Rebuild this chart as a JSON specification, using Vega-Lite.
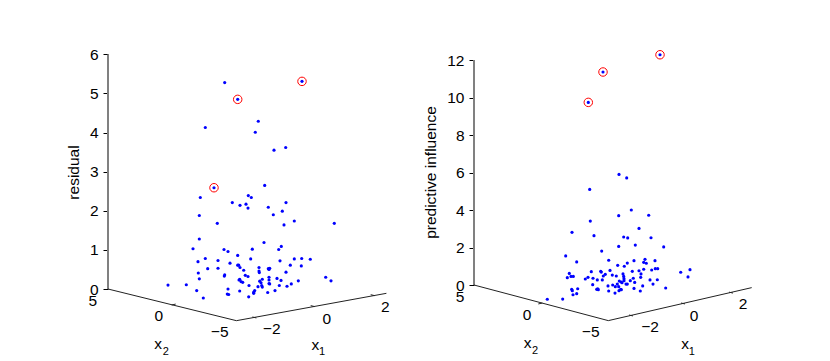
{
"$schema":"https://vega.github.io/schema/vega-lite/v6.json",
"autosize":{"type":"pad"},
"padding":{"left":66,"top":0,"right":0,"bottom":0},
"background":"white",
"spacing":0,
"bounds":"flush",
"config":{"view":{"stroke":null},"font":"Liberation Sans","text":{"font":"Liberation Sans"}},
"datasets":{
"p1":[
{"u":116.7,"z":5.28},{"u":129.7,"z":4.85,"out":true},{"u":194,"z":5.31,"out":true},{"u":150.3,"z":4.29},{"u":97.3,"z":4.13},{"u":147.3,"z":4.01},{"u":166,"z":3.55},{"u":177.7,"z":3.62},{"u":156.7,"z":2.65},{"u":106,"z":2.59,"out":true},{"u":140.3,"z":2.39},{"u":143.3,"z":2.34},{"u":92.3,"z":2.34},
{"u":124.3,"z":2.21},{"u":132,"z":2.14},{"u":138,"z":2.17},{"u":140,"z":2.07},{"u":160.3,"z":2.09},{"u":178,"z":2.21},{"u":165.3,"z":1.9},{"u":174.3,"z":1.99},{"u":91.3,"z":1.88},{"u":186.3,"z":1.74},{"u":176,"z":1.64},{"u":109.3,"z":1.68},{"u":226.3,"z":1.68},{"u":91.3,"z":1.28},{"u":156,"z":1.19},{"u":173.3,"z":1.09},{"u":170.7,"z":1.01},{"u":144.3,"z":1.02},{"u":85,"z":1.03},{"u":116,"z":1.01},{"u":120,"z":0.96},{"u":129.7,"z":0.86},{"u":97.3,"z":0.78},{"u":142.7,"z":0.77},{"u":90,"z":0.7},{"u":110,"z":0.73},{"u":172,"z":0.72},{"u":186.3,"z":0.77},{"u":193.7,"z":0.78},{"u":202.3,"z":0.76},{"u":122,"z":0.66},{"u":129.7,"z":0.61},{"u":130.7,"z":0.61},{"u":132,"z":0.55},{"u":182.3,"z":0.61},{"u":193.3,"z":0.59},{"u":99.7,"z":0.52},{"u":110,"z":0.53},{"u":151,"z":0.55},{"u":160.3,"z":0.52},{"u":161.7,"z":0.53},{"u":161,"z":0.5},{"u":135.7,"z":0.48},{"u":90.3,"z":0.41},{"u":151,"z":0.46},{"u":151.3,"z":0.42},{"u":178,"z":0.43},{"u":137.3,"z":0.35},{"u":140,"z":0.32},{"u":116.7,"z":0.36},{"u":116.3,"z":0.33},{"u":91.3,"z":0.26},{"u":131.7,"z":0.25},{"u":131,"z":0.23},{"u":133,"z":0.19},{"u":134.7,"z":0.17},{"u":154.3,"z":0.25},{"u":151.7,"z":0.2},{"u":153,"z":0.16},{"u":161,"z":0.3},{"u":161,"z":0.23},{"u":161,"z":0.14},{"u":169,"z":0.27},{"u":173,"z":0.22},{"u":190.3,"z":0.21},{"u":217.7,"z":0.3},{"u":223,"z":0.21},{"u":60,"z":0.1},{"u":78.3,"z":0.11},{"u":141,"z":0.09},{"u":150,"z":0.06},{"u":153.7,"z":0.09},{"u":154.3,"z":0.05},{"u":161.7,"z":0.13},{"u":171.3,"z":0.09},{"u":179,"z":0.07},{"u":183.3,"z":0.13},{"u":120,"z":0},{"u":88.7,"z":-0.04},{"u":131.7,"z":-0.05},{"u":119.3,"z":-0.13},{"u":120.7,"z":-0.14},{"u":146.7,"z":-0.04},{"u":145.7,"z":-0.08},{"u":145.7,"z":-0.11},{"u":159.7,"z":-0.09},{"u":167,"z":-0.04},{"u":95.3,"z":-0.23},{"u":140.7,"z":-0.2}
],
"p2":[
{"u":186,"z":12.28,"out":true},{"u":129,"z":11.36,"out":true},{"u":114.3,"z":9.74,"out":true},{"u":145,"z":5.9},{"u":152.7,"z":5.71},{"u":115.7,"z":5.1},
{"u":157.3,"z":4},{"u":144.7,"z":3.7},{"u":174.7,"z":3.72},{"u":116.3,"z":3.41},{"u":165,"z":3.02},{"u":98,"z":2.81},{"u":120,"z":2.63},{"u":149.7,"z":2.56},{"u":153.7,"z":2.51},{"u":177,"z":2.52},{"u":161.3,"z":2.13},{"u":144.7,"z":2.06},{"u":189.7,"z":2.03},{"u":127.7,"z":1.81},{"u":91.7,"z":1.55},{"u":134.7,"z":1.32},{"u":160,"z":1.3},{"u":171,"z":1.37},{"u":181,"z":1.3},{"u":102.7,"z":1.23},{"u":153.3,"z":1.17},{"u":169.7,"z":1.21},{"u":172.3,"z":1.16},{"u":143.7,"z":1.05},{"u":150.3,"z":1},{"u":181.3,"z":0.87},{"u":183.7,"z":0.87},{"u":177.7,"z":0.8},{"u":169.7,"z":0.84},{"u":216,"z":0.82},{"u":136,"z":0.78},{"u":158.3,"z":0.73},{"u":165,"z":0.76},{"u":126.7,"z":0.73},{"u":127.3,"z":0.69},{"u":117.3,"z":0.71},{"u":95.3,"z":0.62},{"u":206.7,"z":0.68},{"u":167,"z":0.59},{"u":131.3,"z":0.57},{"u":129.3,"z":0.48},{"u":138.3,"z":0.53},{"u":142.3,"z":0.48},{"u":149,"z":0.59},{"u":149.7,"z":0.46},{"u":97,"z":0.46},{"u":99.3,"z":0.46},{"u":93.3,"z":0.39},{"u":214,"z":0.43},{"u":114,"z":0.41},{"u":111.3,"z":0.32},{"u":119,"z":0.36},{"u":123.3,"z":0.27},{"u":128.3,"z":0.27},{"u":166.7,"z":0.41},{"u":159.3,"z":0.36},{"u":150,"z":0.34},{"u":156.3,"z":0.23},{"u":145.3,"z":0.21},{"u":147.3,"z":0.16},{"u":150,"z":0.23},{"u":160.7,"z":0.14},{"u":176,"z":0.27},{"u":183.3,"z":0.28},{"u":152,"z":0.05},{"u":153.3,"z":0.05},{"u":148,"z":0.12},{"u":143.3,"z":0.05},{"u":138.7,"z":0},{"u":141.3,"z":-0.09},{"u":134,"z":-0.05},{"u":118.7,"z":0.02},{"u":179,"z":0.05},{"u":168.7,"z":-0.05},{"u":144.7,"z":-0.09},{"u":146.7,"z":-0.23},{"u":160,"z":-0.18},{"u":147.3,"z":-0.25},{"u":145,"z":-0.3},{"u":134.7,"z":-0.32},{"u":141,"z":-0.43},{"u":166.3,"z":-0.32},{"u":191.7,"z":-0.16},{"u":103.7,"z":-0.2},{"u":97.7,"z":-0.23},{"u":98.3,"z":-0.3},{"u":102.7,"z":-0.46},{"u":99,"z":-0.52},{"u":123.7,"z":-0.2},{"u":122.7,"z":-0.23},{"u":124.3,"z":-0.25},{"u":73.3,"z":-0.76},{"u":88.7,"z":-0.75}
],
"floor1":[
{"u":0,"z":0,"u2":128.4,"z2":-0.81},{"u":128.4,"z":-0.81,"u2":278.4,"z2":-0.11},
{"u":63.7,"z":-0.41,"u2":67.7,"z2":-0.385},
{"u":148.4,"z":-0.74,"u2":144.4,"z2":-0.715},{"u":206.7,"z":-0.45,"u2":202.7,"z2":-0.425},{"u":266.7,"z":-0.17,"u2":262.7,"z2":-0.145}
],
"floor2":[
{"u":0,"z":0,"u2":134.3,"z2":-1.9},{"u":134.3,"z":-1.9,"u2":277.7,"z2":-0.14},
{"u":64.3,"z":-1.01,"u2":68.3,"z2":-0.96},
{"u":159,"z":-1.65,"u2":155,"z2":-1.6},{"u":211,"z":-1.01,"u2":207,"z2":-0.96},{"u":259,"z":-0.43,"u2":255,"z2":-0.38}
],
"labels1":[
{"u":-15.3,"z":-0.3,"label":"5"},{"u":50.7,"z":-0.69,"label":"0"},{"u":111.7,"z":-1.09,"label":"−5"},{"u":163.7,"z":-1.02,"label":"−2"},{"u":218.7,"z":-0.77,"label":"0"},{"u":277.4,"z":-0.45,"label":"2"},{"u":50,"z":-1.41,"label":"x"},{"u":207.4,"z":-1.43,"label":"x"}
],
"subs1":[{"u":57.7,"z":-1.6,"label":"2"},{"u":214,"z":-1.62,"label":"1"}],
"labels2":[
{"u":-14,"z":-0.64,"label":"5"},{"u":53,"z":-1.6,"label":"0"},{"u":116.7,"z":-2.51,"label":"−5"},{"u":176,"z":-2.22,"label":"−2"},{"u":220,"z":-1.65,"label":"0"},{"u":269,"z":-1.01,"label":"2"},{"u":53.7,"z":-3.11,"label":"x"},{"u":211,"z":-3.15,"label":"x"}
],
"subs2":[{"u":61,"z":-3.52,"label":"2"},{"u":217.7,"z":-3.56,"label":"1"}],
"zaxis1":[{"u":0,"z":0,"z2":6}],
"zaxis2":[{"u":0,"z":0,"z2":12}]
},
"hconcat":[
{"width":366,"height":361,
"encoding":{
"x":{"field":"u","type":"quantitative","scale":{"domain":[0,366],"nice":false,"zero":false},"axis":null},
"y":{"field":"z","type":"quantitative","scale":{"domain":[-1.841,7.391],"nice":false,"zero":false},
"axis":{"title":"residual","values":[0,1,2,3,4,5,6],"format":"d","grid":false,"domain":false,"tickSize":5,"tickColor":"#000","tickWidth":1,"labelFontSize":15.5,"labelFont":"Liberation Sans","labelColor":"#000","labelPadding":5,"titleFont":"Liberation Sans","titleFontSize":15.5,"titleFontWeight":"normal","titleColor":"#000","titleX":-27,"titleY":172}}
},
"layer":[
{"data":{"name":"zaxis1"},"mark":{"type":"rule","color":"#808080","strokeWidth":2},"encoding":{"y2":{"field":"z2"}}},
{"data":{"name":"floor1"},"mark":{"type":"rule","color":"#222","strokeWidth":1},"encoding":{"x2":{"field":"u2"},"y2":{"field":"z2"}}},
{"data":{"name":"labels1"},"mark":{"type":"text","fontSize":15.5,"font":"Liberation Sans","color":"#000"},"encoding":{"text":{"field":"label"}}},
{"data":{"name":"subs1"},"mark":{"type":"text","fontSize":11,"font":"Liberation Sans","color":"#000"},"encoding":{"text":{"field":"label"}}},
{"data":{"name":"p1"},"mark":{"type":"circle","color":"#0000ff","opacity":1,"size":10}},
{"data":{"name":"p1"},"transform":[{"filter":"datum.out"}],"mark":{"type":"point","color":"#ff0000","opacity":1,"strokeWidth":1,"size":72,"filled":false}}
]},
{"width":356,"height":361,
"encoding":{
"x":{"field":"u","type":"quantitative","scale":{"domain":[0,356],"nice":false,"zero":false},"axis":null},
"y":{"field":"z","type":"quantitative","scale":{"domain":[-4.053,15.2],"nice":false,"zero":false},
"axis":{"title":"predictive influence","values":[0,2,4,6,8,10,12],"format":"d","grid":false,"domain":false,"tickSize":5,"tickColor":"#000","tickWidth":1,"labelFontSize":15.5,"labelFont":"Liberation Sans","labelColor":"#000","labelPadding":5,"titleFont":"Liberation Sans","titleFontSize":15.5,"titleFontWeight":"normal","titleColor":"#000","titleX":-36,"titleY":172}}
},
"layer":[
{"data":{"name":"zaxis2"},"mark":{"type":"rule","color":"#808080","strokeWidth":2},"encoding":{"y2":{"field":"z2"}}},
{"data":{"name":"floor2"},"mark":{"type":"rule","color":"#222","strokeWidth":1},"encoding":{"x2":{"field":"u2"},"y2":{"field":"z2"}}},
{"data":{"name":"labels2"},"mark":{"type":"text","fontSize":15.5,"font":"Liberation Sans","color":"#000"},"encoding":{"text":{"field":"label"}}},
{"data":{"name":"subs2"},"mark":{"type":"text","fontSize":11,"font":"Liberation Sans","color":"#000"},"encoding":{"text":{"field":"label"}}},
{"data":{"name":"p2"},"mark":{"type":"circle","color":"#0000ff","opacity":1,"size":10}},
{"data":{"name":"p2"},"transform":[{"filter":"datum.out"}],"mark":{"type":"point","color":"#ff0000","opacity":1,"strokeWidth":1,"size":72,"filled":false}}
]}
]
}
